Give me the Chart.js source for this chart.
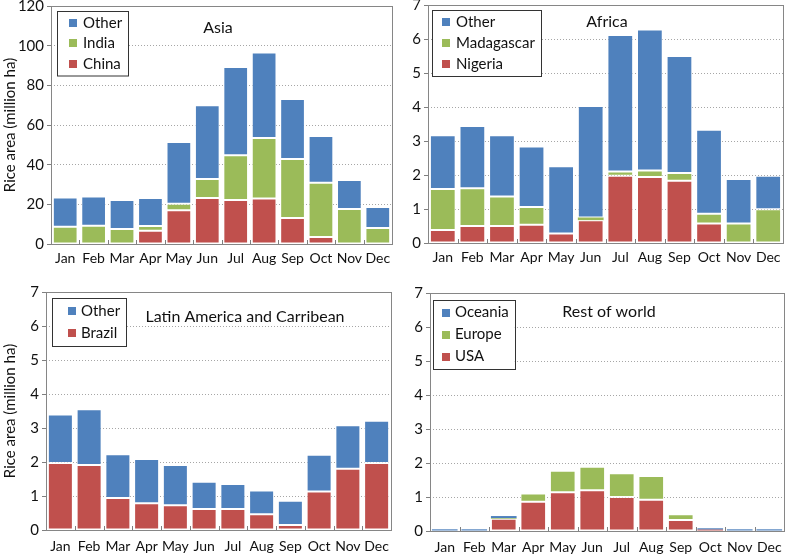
<!DOCTYPE html>
<html>
<head>
<meta charset="utf-8">
<title>Rice area by month</title>
<script src="https://cdn.jsdelivr.net/npm/chart.js@4.4.0/dist/chart.umd.min.js"></script>
<style>
    body { margin: 0; background: #fff; }
    .panel { position: absolute; }
</style>
</head>
<body>
<div class="panel" style="left:0;top:0"><canvas id="asia" width="395" height="277"></canvas></div>
<div class="panel" style="left:395px;top:0"><canvas id="africa" width="392" height="277"></canvas></div>
<div class="panel" style="left:0;top:277px"><canvas id="latam" width="395" height="277"></canvas></div>
<div class="panel" style="left:395px;top:277px"><canvas id="rest" width="392" height="277"></canvas></div>
<script>
const months = ['Jan', 'Feb', 'Mar', 'Apr', 'May', 'Jun', 'Jul', 'Aug', 'Sep', 'Oct', 'Nov', 'Dec'];

// Asia (million ha)
const asiaChina = [0, 0, 0, 6.7, 17.0, 23.2, 22.2, 23.0, 13.1, 3.5, 0, 0];
const asiaIndia = [8.7, 9.2, 7.6, 2.4, 3.3, 9.6, 22.5, 30.4, 29.8, 27.4, 17.6, 8.1];
const asiaOther = [14.7, 14.8, 14.6, 14.1, 31.1, 37.1, 44.5, 43.1, 30.2, 23.6, 14.7, 10.6];

// Africa
const africaNigeria = [0.38, 0.50, 0.50, 0.54, 0.28, 0.67, 1.98, 1.94, 1.83, 0.57, 0, 0];
const africaMadagascar = [1.21, 1.11, 0.87, 0.52, 0, 0.08, 0.12, 0.19, 0.23, 0.29, 0.57, 0.99];
const africaOther = [1.58, 1.83, 1.80, 1.78, 1.98, 3.28, 4.02, 4.15, 3.44, 2.47, 1.31, 0.99];

// Latin America and Carribean
const latamBrazil = [1.97, 1.91, 0.94, 0.79, 0.73, 0.62, 0.62, 0.46, 0.15, 1.13, 1.80, 1.97];
const latamOther = [1.43, 1.64, 1.29, 1.30, 1.18, 0.80, 0.73, 0.70, 0.71, 1.08, 1.28, 1.24];

// Rest of world
const restUSA = [0, 0, 0.36, 0.86, 1.14, 1.20, 1.00, 0.92, 0.32, 0.04, 0, 0];
const restEurope = [0, 0, 0.02, 0.24, 0.63, 0.69, 0.70, 0.70, 0.17, 0, 0, 0];
const restOceania = [0.05, 0.05, 0.06, 0, 0, 0, 0, 0, 0, 0.04, 0.05, 0.05];

const RED = '#C0504D';
const GREEN = '#9BBB59';
const BLUE = '#4F81BD';
const FONT = 'Lato, "Open Sans", sans-serif';

// 边框、分隔刻度、标题和图例
const panelPlugin = {
    id: 'panel',
    afterDraw: function(chart, args, opts) {
        const ctx = chart.ctx;
        const area = chart.chartArea;
        const xs = chart.scales.x;
        ctx.save();

        // small ticks between categories
        ctx.strokeStyle = '#7f7f7f';
        ctx.lineWidth = 1;
        ctx.beginPath();
        for (let i = 1; i < months.length; i++) {
            const x = Math.round((xs.getPixelForValue(i - 1) + xs.getPixelForValue(i)) / 2) + 0.5;
            ctx.moveTo(x, area.bottom);
            ctx.lineTo(x, area.bottom - 4);
        }
        ctx.stroke();

        ctx.strokeStyle = '#868686';
        ctx.strokeRect(Math.round(area.left) + 0.5, Math.round(area.top) + 0.5,
            Math.round(area.right - area.left), Math.round(area.bottom - area.top));

        // title
        ctx.fillStyle = '#111';
        ctx.font = '16px ' + FONT;
        ctx.textAlign = 'center';
        ctx.textBaseline = 'middle';
        ctx.fillText(opts.title, opts.titleX, opts.titleY);

        // legend box (top series first)
        const sets = chart.data.datasets.slice().reverse();
        ctx.font = '15px ' + FONT;
        let maxW = 0;
        sets.forEach(ds => { maxW = Math.max(maxW, ctx.measureText(ds.label).width); });
        const w = (opts.textX - opts.boxX) + maxW + 6;
        const h = opts.rowGap * sets.length + 3;
        ctx.fillStyle = '#fff';
        ctx.fillRect(opts.boxX, opts.boxY, w, h);
        ctx.strokeStyle = '#333';
        ctx.strokeRect(opts.boxX + 0.5, opts.boxY + 0.5, Math.round(w), h);

        ctx.textAlign = 'left';
        sets.forEach((ds, i) => {
            const cy = opts.boxY + opts.rowGap * (i + 0.5) + 1.5;
            ctx.fillStyle = ds.backgroundColor;
            ctx.fillRect(opts.swatchX, Math.round(cy - 4), 8, 8);
            ctx.fillStyle = '#111';
            ctx.fillText(ds.label, opts.textX, cy);
        });
        ctx.restore();
    }
};

function makeDataset(label, data, color) {
    return {
        label: label,
        data: data,
        backgroundColor: color,
        borderColor: 'rgba(255, 255, 255, 0.7)',
        // thin slivers keep their fill
        borderWidth: function(c) {
            const v = c.raw || 0;
            const ys = c.chart.scales.y;
            return Math.abs(ys.getPixelForValue(0) - ys.getPixelForValue(v)) < 4 ? 0 : 1;
        },
        borderSkipped: false,
        barPercentage: 0.87,
        categoryPercentage: 1.0
    };
}

function makeChart(id, datasets, cfg) {
    const canvas = document.getElementById(id);
    return new Chart(canvas.getContext('2d'), {
        type: 'bar',
        data: { labels: months, datasets: datasets },
        plugins: [panelPlugin],
        options: {
            responsive: false,
            animation: false,
            layout: {
                padding: { left: 0, top: cfg.top, right: canvas.width - cfg.right, bottom: 0 }
            },
            scales: {
                x: {
                    stacked: true,
                    grid: { display: false, drawTicks: false },
                    border: { display: false },
                    ticks: {
                        padding: cfg.labelPad,
                        maxRotation: 0,
                        minRotation: 0,
                        autoSkip: false,
                        color: '#111',
                        font: { family: FONT, size: 14 }
                    },
                    afterFit: function(s) {
                        s.height = canvas.height - cfg.bottom;
                        s.paddingLeft = 0;
                        s.paddingRight = 0;
                    }
                },
                y: {
                    stacked: true,
                    min: 0,
                    max: cfg.max,
                    ticks: {
                        stepSize: cfg.step,
                        padding: 3,
                        color: '#111',
                        font: { family: FONT, size: 15 }
                    },
                    grid: {
                        color: '#a6a6a6',
                        tickColor: '#7f7f7f',
                        tickLength: 4
                    },
                    border: { display: false, dash: [1, 2] },
                    title: {
                        display: cfg.yTitle,
                        text: 'Rice area (million ha)',
                        color: '#111',
                        padding: { top: 1, bottom: 0 },
                        font: { family: FONT, size: 15 }
                    },
                    afterFit: function(s) {
                        s.width = cfg.left;
                        s.paddingTop = 0;
                        s.paddingBottom = 0;
                    }
                }
            },
            plugins: {
                legend: { display: false },
                tooltip: { enabled: false },
                panel: cfg.panel
            }
        }
    });
}

document.addEventListener('DOMContentLoaded', function() {
    makeChart('asia', [
        makeDataset('China', asiaChina, RED),
        makeDataset('India', asiaIndia, GREEN),
        makeDataset('Other', asiaOther, BLUE)
    ], {
        left: 51, right: 392, top: 6, bottom: 244, max: 120, step: 20, labelPad: 6, yTitle: true,
        panel: { title: 'Asia', titleX: 218, titleY: 28, boxX: 57, boxY: 11, swatchX: 69, textX: 83, rowGap: 20.5 }
    });

    makeChart('africa', [
        makeDataset('Nigeria', africaNigeria, RED),
        makeDataset('Madagascar', africaMadagascar, GREEN),
        makeDataset('Other', africaOther, BLUE)
    ], {
        left: 33, right: 388, top: 5, bottom: 243, max: 7, step: 1, labelPad: 6, yTitle: false,
        panel: { title: 'Africa', titleX: 212, titleY: 22, boxX: 37, boxY: 10, swatchX: 47, textX: 61, rowGap: 21 }
    });

    makeChart('latam', [
        makeDataset('Brazil', latamBrazil, RED),
        makeDataset('Other', latamOther, BLUE)
    ], {
        left: 46, right: 391, top: 15, bottom: 253, max: 7, step: 1, labelPad: 8, yTitle: true,
        panel: { title: 'Latin America and Carribean', titleX: 245, titleY: 40, boxX: 52, boxY: 21, swatchX: 68, textX: 81, rowGap: 22.5 }
    });

    makeChart('rest', [
        makeDataset('USA', restUSA, RED),
        makeDataset('Europe', restEurope, GREEN),
        makeDataset('Oceania', restOceania, BLUE)
    ], {
        left: 35, right: 389, top: 16, bottom: 254, max: 7, step: 1, labelPad: 8, yTitle: false,
        panel: { title: 'Rest of world', titleX: 214, titleY: 35, boxX: 38, boxY: 23, swatchX: 47, textX: 60, rowGap: 22 }
    });
});
</script>
</body>
</html>
